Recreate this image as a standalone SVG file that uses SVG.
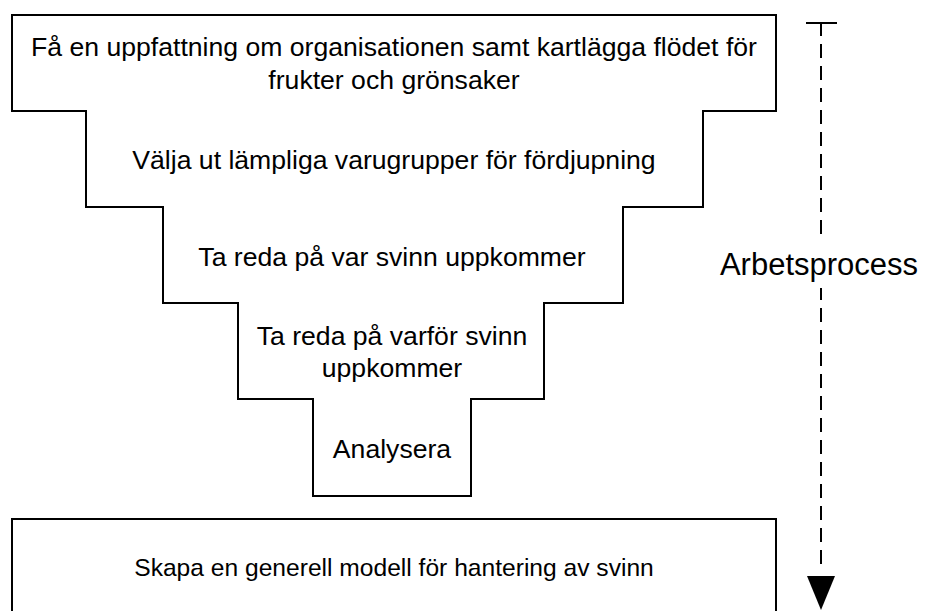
<svg xmlns="http://www.w3.org/2000/svg" width="925" height="611" viewBox="0 0 925 611">
  <style>
    .outline { fill: #ffffff; stroke: #000000; stroke-width: 2; stroke-linejoin: miter; }
    .label { font-family: "Liberation Sans", Arial, Helvetica, sans-serif; font-size: 26.6px; fill: #000000; text-anchor: middle; }
    .label-sm { font-family: "Liberation Sans", Arial, Helvetica, sans-serif; font-size: 24.6px; fill: #000000; text-anchor: middle; }
    .side { font-family: "Liberation Sans", Arial, Helvetica, sans-serif; font-size: 31px; fill: #000000; text-anchor: middle; }
    .flow { fill: none; stroke: #000000; stroke-width: 2; }
  </style>
  <rect width="925" height="611" fill="#ffffff"/>

  <!-- stepped funnel outline -->
  <g id="funnel">
    <path class="outline" d="M12,15 H776 V111 H703 V207 H623 V303 H544 V399 H471 V496 H313 V399 H238 V303 H163 V207 H86 V111 H12 Z"/>
  </g>

  <g id="step1">
    <text class="label" x="394" y="56">Få en uppfattning om organisationen samt kartlägga flödet för</text>
    <text class="label" x="394" y="89">frukter och grönsaker</text>
  </g>

  <g id="step2">
    <text class="label" x="394" y="169">Välja ut lämpliga varugrupper för fördjupning</text>
  </g>

  <g id="step3">
    <text class="label" x="392" y="266">Ta reda på var svinn uppkommer</text>
  </g>

  <g id="step4">
    <text class="label" x="392" y="345">Ta reda på varför svinn</text>
    <text class="label" x="392" y="377">uppkommer</text>
  </g>

  <g id="step5">
    <text class="label" x="392" y="458">Analysera</text>
  </g>

  <g id="result">
    <rect class="outline" x="12" y="519" width="764" height="110"/>
    <text class="label-sm" x="394" y="576">Skapa en generell modell för hantering av svinn</text>
  </g>

  <!-- process direction indicator -->
  <g id="connectors">
    <line class="flow" x1="806" y1="23" x2="837" y2="23"/>
    <line class="flow" x1="821" y1="22" x2="821" y2="566" stroke-dasharray="14 8"/>
    <polygon points="807,576 835,576 821,610" fill="#000000"/>
  </g>

  <g id="process-label">
    <rect x="716" y="242" width="206" height="46" fill="#ffffff"/>
    <text class="side" x="819" y="275">Arbetsprocess</text>
  </g>
</svg>
